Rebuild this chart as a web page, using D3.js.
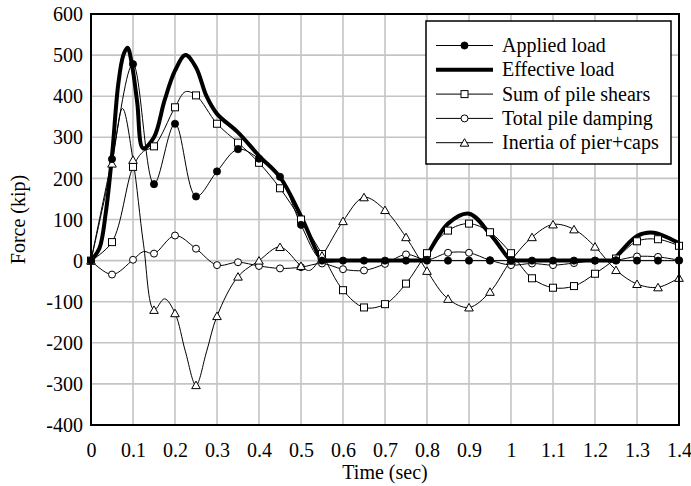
<!DOCTYPE html>
<html><head><meta charset="utf-8">
<script src="https://cdn.jsdelivr.net/npm/d3@7"></script>
<style>body{margin:0;background:#fff}svg text{font-family:"Liberation Serif","Times New Roman",serif;font-size:20px;fill:#000}</style>
</head><body><svg id="c" width="691" height="486"></svg>
<script>
// ---- data ----
const markerTimes = [0,0.05,0.1,0.15,0.2,0.25,0.3,0.35,0.4,0.45,0.5,0.55,0.6,0.65,0.7,0.75,0.8,0.85,0.9,0.95,1.0,1.05,1.1,1.15,1.2,1.25,1.3,1.35,1.4];
const appliedLoad = [0,247,478,186,333,156,217,271,248,204,87,0,0,0,0,0,0,0,0,0,0,0,0,0,0,0,0,0,0];
const sumPileShears = [0,45,228,278,373,402,333,287,238,176,100,16,-72,-114,-106,-56,18,73,90,69,18,-43,-66,-62,-32,5,47,52,36];
const totalPileDamping = [0,-34,2,17,61,29,-11,-4,-13,-19,-16,-7,-21,-24,-8,15,2,19,19,1,-11,-7,-11,-6,0,1,10,9,1];
const inertiaPierCaps = [0,236,245,-120,-128,-303,-135,-39,0,33,-13,12,96,154,123,57,-25,-93,-114,-76,0,57,88,76,34,-23,-57,-65,-42];
// intermediate points of the smoothed curves (between markers)
const shearsExtraTimes = [0.125,0.225];
const shearsExtraValues = [266,411];
const dampingExtraTimes = [0.125];
const dampingExtraValues = [22];
const inertiaExtraTimes = [0.075,0.125,0.175,0.225,0.275,0.52];
const inertiaExtraValues = [370,40,-93,-222,-222,-24];
// effective load (no markers)
const effectiveTimes = [0,0.02,0.035,0.05,0.065,0.077,0.087,0.097,0.11,0.124,0.15,0.175,0.2,0.225,0.25,0.275,0.3,0.35,0.4,0.45,0.5,0.55,0.555,0.6,0.7,0.785,0.79,0.85,0.9,0.95,1.0,1.005,1.1,1.235,1.24,1.3,1.34,1.4];
const effectiveLoad = [0,30,115,255,430,500,518,480,385,273,300,389,462,500,470,400,357,312,255,203,108,0,0,0,0,0,0,90,114,65,0,0,0,0,0,60,68,42];

const xTickValues = [0,0.1,0.2,0.3,0.4,0.5,0.6,0.7,0.8,0.9,1.0,1.1,1.2,1.3,1.4];
const xTickLabels = ["0","0.1","0.2","0.3","0.4","0.5","0.6","0.7","0.8","0.9","1","1.1","1.2","1.3","1.4"];
const yTickValues = [-400,-300,-200,-100,0,100,200,300,400,500,600];
const yTickLabels = ["-400","-300","-200","-100","0","100","200","300","400","500","600"];
const seriesNames = ["Applied load","Effective load","Sum of pile shears","Total pile damping","Inertia of pier+caps"];

// ---- layout ----
const FONT = '"Liberation Serif","Times New Roman",serif';
const svg = d3.select("#c");
const L=91, R=679, T=14, B=425;
const x = d3.scaleLinear().domain([0,1.4]).range([L,R]);
const y = d3.scaleLinear().domain([-400,600]).range([B,T]);

svg.append("rect").attr("width",691).attr("height",486).attr("fill","#fff");

// grid
const g = svg.append("g");
g.selectAll(".vg").data(xTickValues.slice(1,-1)).enter().append("line")
  .attr("x1",d=>x(d)).attr("x2",d=>x(d)).attr("y1",T).attr("y2",B)
  .attr("stroke","#c4c4c4").attr("stroke-width",1.6);
g.selectAll(".hg").data(yTickValues.slice(1,-1)).enter().append("line")
  .attr("y1",d=>y(d)).attr("y2",d=>y(d)).attr("x1",L).attr("x2",R)
  .attr("stroke","#c4c4c4").attr("stroke-width",1.6);

// axes via d3 (labels only, no tick marks)
const xAxis = d3.axisBottom(x).tickValues(xTickValues).tickFormat((d,i)=>xTickLabels[i]).tickSize(0).tickPadding(0);
const xa = svg.append("g").attr("transform",`translate(0,${B})`).call(xAxis)
  .attr("font-family",FONT).attr("font-size",20);
xa.select(".domain").remove();
xa.selectAll("text").attr("y",31.5).attr("dy",null).style("font-size","20px").style("font-family",FONT).attr("fill","#000");
const yAxis = d3.axisLeft(y).tickValues(yTickValues).tickFormat((d,i)=>yTickLabels[i]).tickSize(0).tickPadding(8);
const ya = svg.append("g").attr("transform",`translate(${L},0)`).call(yAxis)
  .attr("font-family",FONT).attr("font-size",20);
ya.select(".domain").remove();
ya.selectAll("text").attr("dy","0.33em").style("font-size","20px").style("font-family",FONT).attr("fill","#000");

// series
function merge(ts, vs, ets, evs){
  const pts = ts.map((t,i)=>[t,vs[i]]);
  if(ets) ets.forEach((t,i)=>pts.push([t,evs[i]]));
  return pts.sort((a,b)=>a[0]-b[0]);
}
const line = d3.line().x(d=>x(d[0])).y(d=>y(d[1])).curve(d3.curveCatmullRom.alpha(0.5));
const plot = svg.append("g");
svg.append("clipPath").attr("id","pc").append("rect").attr("x",L).attr("y",T).attr("width",R-L).attr("height",B-T);

const series = [
  {pts: merge(markerTimes, appliedLoad), w:1},
  {pts: merge(markerTimes, sumPileShears, shearsExtraTimes, shearsExtraValues), w:1},
  {pts: merge(markerTimes, totalPileDamping, dampingExtraTimes, dampingExtraValues), w:1},
  {pts: merge(markerTimes, inertiaPierCaps, inertiaExtraTimes, inertiaExtraValues), w:1},
  {pts: merge(effectiveTimes, effectiveLoad), w:4}
];
series.forEach(s=>{
  plot.append("path").attr("d",line(s.pts)).attr("fill","none").attr("stroke","#000")
    .attr("stroke-width",s.w).attr("stroke-linejoin","round").attr("clip-path","url(#pc)");
});

function drawMarker(sel, type){
  if(type==="fcircle") sel.append("circle").attr("r",3.6).attr("fill","#000").attr("stroke","#000").attr("stroke-width",0.8);
  else if(type==="ocircle") sel.append("circle").attr("r",3.5).attr("fill","#fff").attr("stroke","#000").attr("stroke-width",1);
  else if(type==="square") sel.append("rect").attr("x",-3.5).attr("y",-3.5).attr("width",7).attr("height",7).attr("fill","#fff").attr("stroke","#000").attr("stroke-width",1);
  else if(type==="triangle") sel.append("path").attr("d","M0,-4L4.3,3.5L-4.3,3.5Z").attr("fill","#fff").attr("stroke","#000").attr("stroke-width",1);
}
const markerSeries = [
  {vals: sumPileShears, marker:"square"},
  {vals: totalPileDamping, marker:"ocircle"},
  {vals: inertiaPierCaps, marker:"triangle"},
  {vals: appliedLoad, marker:"fcircle"}
];
markerSeries.forEach(s=>{
  markerTimes.forEach((t,i)=>{
    const m = plot.append("g").attr("transform",`translate(${x(t)},${y(s.vals[i])})`);
    drawMarker(m, s.marker);
  });
});

// plot border
svg.append("rect").attr("x",L).attr("y",T).attr("width",R-L).attr("height",B-T)
  .attr("fill","none").attr("stroke","#000").attr("stroke-width",2);

// axis titles
svg.append("text").attr("x",(L+R)/2).attr("y",479).attr("text-anchor","middle").text("Time (sec)");
svg.append("text").attr("transform",`translate(25,${(T+B)/2}) rotate(-90)`).attr("text-anchor","middle").text("Force (kip)");

// legend
const lg = svg.append("g");
lg.append("rect").attr("x",426).attr("y",21).attr("width",245).attr("height",143)
  .attr("fill","#fff").attr("stroke","#000").attr("stroke-width",1.5);
const legendMarkers = ["fcircle",null,"square","ocircle","triangle"];
seriesNames.forEach((n,i)=>{
  const cy = 45.5 + i*24.3;
  lg.append("line").attr("x1",436).attr("x2",493).attr("y1",cy).attr("y2",cy)
    .attr("stroke","#000").attr("stroke-width", i===1?4:1);
  if(legendMarkers[i]){
    const m = lg.append("g").attr("transform",`translate(464.5,${cy})`);
    drawMarker(m, legendMarkers[i]);
  }
  lg.append("text").attr("x",502).attr("y",cy).attr("dy","0.33em").text(n);
});
</script></body></html>
